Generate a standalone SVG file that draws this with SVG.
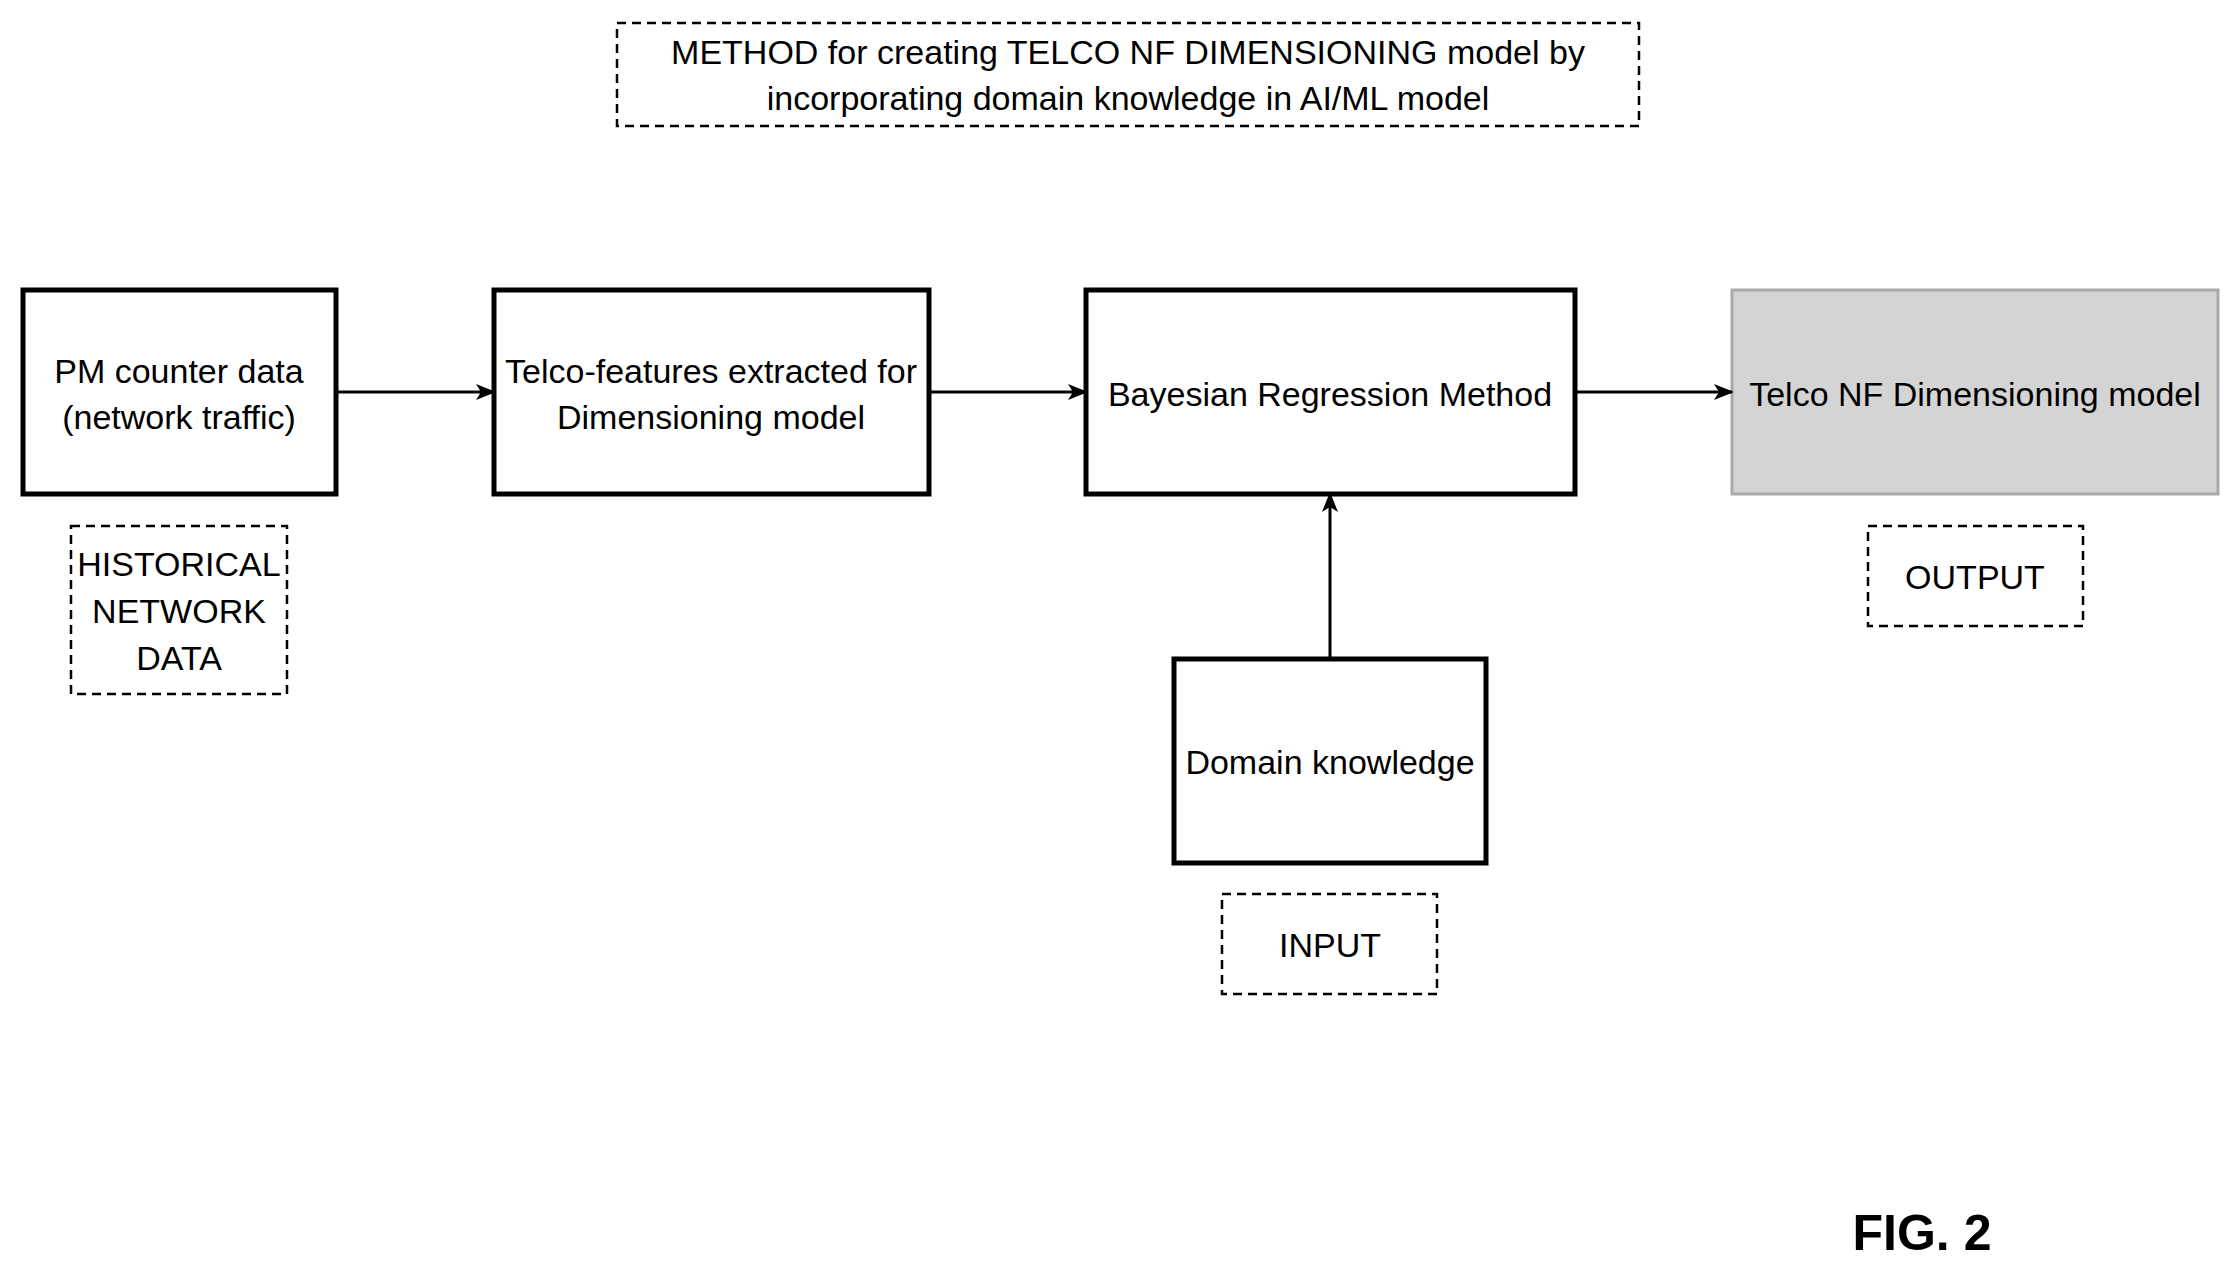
<svg xmlns="http://www.w3.org/2000/svg" width="2229" height="1269" viewBox="0 0 2229 1269">
<style>
.n{fill:#fff;stroke:#000;stroke-width:5}
.d{fill:#fff;stroke:#000;stroke-width:2.5;stroke-dasharray:9 6}
text{font-family:"Liberation Sans",Arial,sans-serif;font-size:34px;text-anchor:middle;fill:#000}
.c{stroke:#000;stroke-width:3;fill:none}
</style>
<defs><marker id="a" markerWidth="10" markerHeight="10" refX="9" refY="5" orient="auto" markerUnits="userSpaceOnUse" viewBox="0 0 10 10"><path d="M0,0 L10,5 L0,10 L3,5 Z" fill="#000" transform="scale(1)"/></marker>
<marker id="b" markerWidth="20" markerHeight="20" refX="18" refY="10" orient="auto" markerUnits="userSpaceOnUse"><path d="M0,2 L20,10 L0,18 L5,10 Z" fill="#000"/></marker></defs>
<rect width="2229" height="1269" fill="#fff"/>
<g id="title"><rect class="d" x="617" y="23" width="1022" height="103"/><text x="1128" y="64">METHOD for creating TELCO NF DIMENSIONING model by</text><text x="1128" y="110">incorporating domain knowledge in AI/ML model</text></g>
<g id="pm"><rect class="n" x="23" y="290" width="313" height="204"/><text x="179" y="383">PM counter data</text><text x="179" y="429">(network traffic)</text></g>
<g id="hist"><rect class="d" x="71" y="526" width="216" height="168"/><text x="179" y="576">HISTORICAL</text><text x="179" y="623">NETWORK</text><text x="179" y="670">DATA</text></g>
<g id="feat"><rect class="n" x="494" y="290" width="435" height="204"/><text x="711" y="383">Telco-features extracted for</text><text x="711" y="429">Dimensioning model</text></g>
<g id="bayes"><rect class="n" x="1086" y="290" width="489" height="204"/><text x="1330" y="406">Bayesian Regression Method</text></g>
<g id="out"><rect x="1732" y="290" width="486" height="204" fill="#d4d4d4" stroke="#aaa" stroke-width="3"/><text x="1975" y="406">Telco NF Dimensioning model</text></g>
<g id="outl"><rect class="d" x="1868" y="526" width="215" height="100"/><text x="1975" y="589">OUTPUT</text></g>
<g id="dom"><rect class="n" x="1174" y="659" width="312" height="204"/><text x="1330" y="774">Domain knowledge</text></g>
<g id="inl"><rect class="d" x="1222" y="894" width="215" height="100"/><text x="1330" y="957">INPUT</text></g>
<g id="connectors">
<line class="c" x1="336" y1="392" x2="494" y2="392" marker-end="url(#b)"/>
<line class="c" x1="929" y1="392" x2="1086" y2="392" marker-end="url(#b)"/>
<line class="c" x1="1575" y1="392" x2="1732" y2="392" marker-end="url(#b)"/>
<line class="c" x1="1330" y1="659" x2="1330" y2="494" marker-end="url(#b)"/>
</g>
<text x="1922" y="1250" style="font-size:50px;font-weight:bold">FIG. 2</text>
</svg>
